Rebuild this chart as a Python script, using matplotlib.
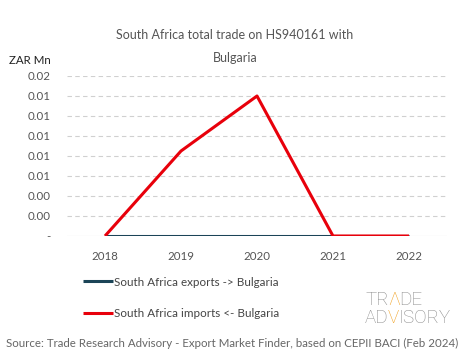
import matplotlib
matplotlib.use("Agg")
import matplotlib.pyplot as plt
from matplotlib.ticker import FixedLocator, FuncFormatter

years = ["2018", "2019", "2020", "2021", "2022"]
exports = [0, 0, 0, 0, 0]
imports = [0, 0.0085, 0.014, 0, 0]
yticks = [0, 0.002, 0.004, 0.006, 0.008, 0.010, 0.012, 0.014, 0.016]

plt.rcParams['font.family'] = ['Lato', 'DejaVu Sans']

fig = plt.figure(figsize=(4.65, 3.59), dpi=100)
ax = fig.add_axes([67/465, 1-236/359, (447-67)/465, (236-76)/359])

x = list(range(len(years)))
ax.plot(x, exports, color="#1b4457", lw=2.2, zorder=3, solid_capstyle='butt',
        label="South Africa exports -> Bulgaria")
ax.plot(x, imports, color="#e8000b", lw=2.2, zorder=4, solid_capstyle='butt',
        label="South Africa imports <- Bulgaria")

ax.set_xlim(-0.5, len(years) - 0.5)
ax.set_ylim(0, 0.016)
ax.set_xticks(x)
ax.set_xticklabels(years)
ax.yaxis.set_major_locator(FixedLocator(yticks))
ax.yaxis.set_major_formatter(FuncFormatter(lambda v, p: "-" if abs(v) < 1e-12 else f"{v:.2f}"))
ax.tick_params(axis='both', length=0, labelsize=8.3, colors="#555555")
ax.tick_params(axis='x', pad=11)
ax.tick_params(axis='y', pad=12)
for s in ax.spines.values():
    s.set_visible(False)
for t in yticks[1:]:
    ax.axhline(t, color="#d0d0d0", lw=0.8, ls=(0, (4, 3)), zorder=1)
ax.axhline(0, color="#d0d0d0", lw=0.8, zorder=1)

fig.text(235/465, 1-35/359, "South Africa total trade on HS940161 with", ha='center', va='center',
         fontsize=9, color="#555555")
fig.text(235/465, 1-58/359, "Bulgaria", ha='center', va='center', fontsize=9, color="#555555")
fig.text(9/465, 1-60/359, "ZAR Mn", ha='left', va='center', fontsize=8.3, color="#222222")

handles, labels = ax.get_legend_handles_labels()
fig.legend(handles, labels, loc='upper left', bbox_to_anchor=(72/465, 1-266/359), frameon=False,
           fontsize=8.4, labelcolor="#444444", handlelength=2.6, handletextpad=0.1, labelspacing=1.75)

fig.text(232/465, 1-343/359, "Source: Trade Research Advisory - Export Market Finder, based on CEPII BACI (Feb 2024)",
         ha='center', va='center', fontsize=8.3, color="#666666")

# logo, pieces placed one after another
fig.canvas.draw()
renderer = fig.canvas.get_renderer()
def row(pieces, x0, y0):
    xp = x0
    for txt, col in pieces:
        t = fig.text(xp / 465, 1 - y0 / 359, txt, ha='left', va='center', fontsize=13.5, color=col,
                     family=['Roboto'], fontweight='light')
        bb = t.get_window_extent(renderer)
        xp += bb.width - 0.5
grey, orange = "#8a8a8a", "#f0a020"
row([("TR", grey), ("\u039b", orange), ("DE", grey)], 365, 300)
row([("AD", grey), ("V", orange), ("ISORY", grey)], 365, 318)

fig.savefig("out.png", dpi=100)
